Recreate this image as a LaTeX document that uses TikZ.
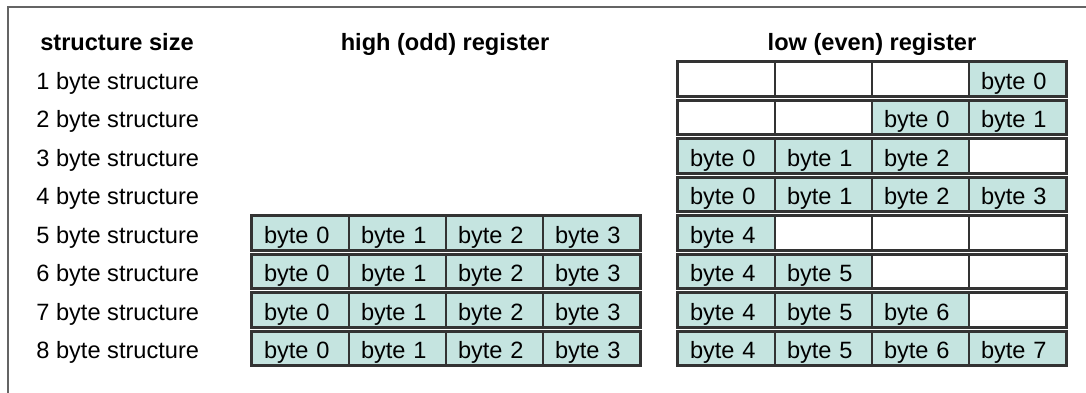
\documentclass[tikz,border=0pt]{standalone}
\usepackage{fontspec}
\setmainfont{Liberation Sans}
\definecolor{cellfill}{RGB}{197,228,224}
\definecolor{boxline}{RGB}{51,51,51}
\definecolor{frameline}{RGB}{100,100,100}

\begin{document}
\begin{tikzpicture}
  [x=0.5pt,y=-0.5pt,font=\fontsize{11.8pt}{14pt}\selectfont,
   cell/.style={draw=boxline,line width=0.75pt,inner xsep=6pt,inner ysep=0pt,
     text width=36.5pt,align=left,text height=13.25pt,text depth=3.25pt},
   fullcell/.style={cell,fill=cellfill},
   regbox/.style={draw=boxline,line width=1.5pt},
   rowlabel/.style={anchor=base west,inner sep=0pt},
   heading/.style={anchor=base,inner sep=0pt,font=\fontsize{11.8pt}{14pt}\selectfont\bfseries}]
  \useasboundingbox (0,0) rectangle (1086,392);
  \draw[frameline,line width=1pt] (7.5,6.5) rectangle (1110,420);

  \node[heading] (hsize) at (117,50) {structure size};
  \node[heading] (hhigh) at (445,50) {high (odd) register};
  \node[heading] (hlow) at (872,50) {low (even) register};

  \foreach \r in {1,...,8}
    \node[rowlabel] (lab\r) at (36,{50.5+38.5*\r}) {\r\ byte structure};

  % high (odd) register
  \foreach \r in {5,...,8}{
    \foreach \c in {1,...,4}{
      \node[fullcell] (hi\r\c) at ({203.5+97*\c},{40.5+38.5*\r}) {byte \the\numexpr\c-1\relax};
    }
    \draw[regbox] (hi\r1.north west) rectangle (hi\r4.south east);
  }

  % low (even) register, - = empty byte
  \foreach \r/\bytes in {1/{-,-,-,0},2/{-,-,0,1},3/{0,1,2,-},4/{0,1,2,3},
                         5/{4,-,-,-},6/{4,5,-,-},7/{4,5,6,-},8/{4,5,6,7}}{
    \foreach \b [count=\c] in \bytes {
      \if-\b
        \node[cell] (lo\r\c) at ({629.5+97*\c},{40.5+38.5*\r}) {};
      \else
        \node[fullcell] (lo\r\c) at ({629.5+97*\c},{40.5+38.5*\r}) {byte \b};
      \fi
    }
    \draw[regbox] (lo\r1.north west) rectangle (lo\r4.south east);
  }

\end{tikzpicture}
\end{document}
